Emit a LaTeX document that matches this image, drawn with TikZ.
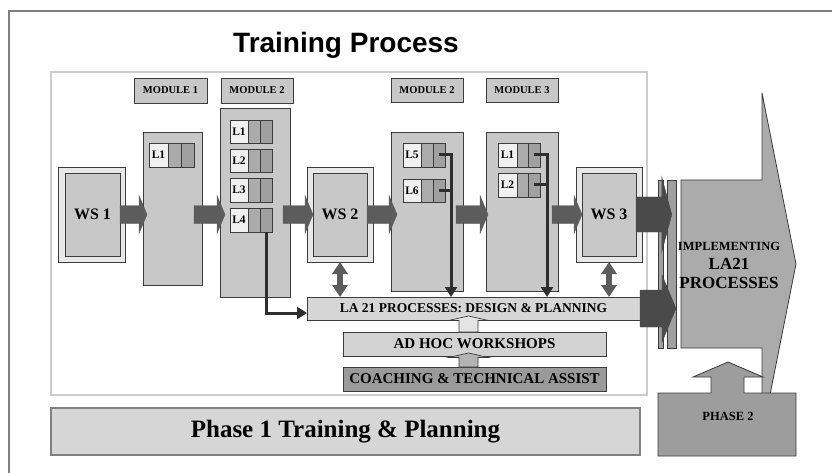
\documentclass[tikz,border=0pt]{standalone}
\usepackage{fontspec}
\setmainfont{Liberation Serif}
\newfontfamily\titlefont{Liberation Sans}
\usetikzlibrary{calc,arrows.meta}
\definecolor{bdr}{HTML}{3C3C3C}
\definecolor{colfill}{HTML}{C8C8C8}
\definecolor{wsfill}{HTML}{E8E8E8}
\definecolor{cellLc}{HTML}{F0F0F0}
\definecolor{cellAc}{HTML}{ABABAB}
\definecolor{cellBc}{HTML}{A0A0A0}
\definecolor{arrD}{HTML}{5C5C5C}
\definecolor{arrDD}{HTML}{4A4A4A}
\definecolor{bigc}{HTML}{ABABAB}
\definecolor{ph2c}{HTML}{9D9D9D}
\definecolor{barc}{HTML}{D6D6D6}
\definecolor{adhocc}{HTML}{D2D2D2}
\definecolor{coachc}{HTML}{9A9A9A}
\definecolor{ph1c}{HTML}{D6D6D6}
\definecolor{innerc}{HTML}{CCCCCC}
\definecolor{outerc}{HTML}{808080}
\definecolor{lineC}{HTML}{2E2E2E}
\definecolor{lt1c}{HTML}{E4E4E4}
\definecolor{lt2c}{HTML}{B4B4B4}
\definecolor{thinc}{HTML}{A0A0A0}

\newcommand{\bx}[7]{\pgfmathsetmacro\bxw{#5-#3}\pgfmathsetmacro\bxh{#6-#4}%
  \node[#2,minimum width=\bxw pt,minimum height=\bxh pt] (#1) at (#3,#4) {#7};}
\newcommand{\lrow}[8]{\bx{#1a}{cellL}{#2}{#6}{#3}{#7}{#8}\bx{#1b}{cellA}{#3}{#6}{#4}{#7}{}\bx{#1c}{cellB}{#4}{#6}{#5}{#7}{}}
\newcommand{\harr}[6][]{\draw[#1] let \p1=#2, \p2=#3 in (\x1,\y1+#4) -- (\x2-#6,\y1+#4) -- (\x2-#6,\y1+#5) -- (\x2,\y1) -- (\x2-#6,\y1-#5) -- (\x2-#6,\y1-#4) -- (\x1,\y1-#4) -- cycle;}
\newcommand{\varr}[6][]{\draw[#1] let \p1=#2, \p2=#3 in (\x1-#4,\y1) -- (\x1-#4,\y2-#6) -- (\x1-#5,\y2-#6) -- (\x1,\y2) -- (\x1+#5,\y2-#6) -- (\x1+#4,\y2-#6) -- (\x1+#4,\y1) -- cycle;}

\begin{document}
\begin{tikzpicture}[x=1pt,y=-1pt,
  box/.style={draw=bdr, line width=0.8pt, inner sep=0pt, outer sep=0pt, anchor=north west, font=\bfseries},
  modlab/.style={box, fill=colfill, font=\bfseries\fontsize{10.5}{11}\selectfont},
  col/.style={box, fill=colfill},
  wsout/.style={box, fill=wsfill},
  wsin/.style={box, fill=colfill, font=\bfseries\fontsize{16}{17}\selectfont},
  cellL/.style={box, fill=cellLc, font=\bfseries\fontsize{11.5}{12}\selectfont},
  cellA/.style={box, fill=cellAc},
  cellB/.style={box, fill=cellBc},
  barst/.style={box, fill=barc, font=\bfseries\fontsize{13.5}{14}\selectfont},
  adhocst/.style={box, fill=adhocc, font=\bfseries\fontsize{15}{16}\selectfont},
  coachst/.style={box, fill=coachc, font=\bfseries\fontsize{15}{16}\selectfont},
  ph1st/.style={box, draw=outerc, line width=1.2pt, fill=ph1c, font=\bfseries\fontsize{25}{26}\selectfont},
  thin/.style={box, fill=thinc},
  blk/.style={fill=arrD, draw=arrD, line width=0.4pt},
  blkD/.style={fill=arrDD, draw=arrDD, line width=0.4pt},
  lt1/.style={fill=lt1c, draw=bdr, line width=0.7pt},
  lt2/.style={fill=lt2c, draw=bdr, line width=0.7pt},
  conn/.style={draw=lineC, line width=3pt, -{Triangle[width=12pt,length=10pt]}},
  connp/.style={draw=lineC, line width=3pt},
  dbl/.style={draw=arrD, line width=6pt, {Triangle[width=15pt,length=12pt]}-{Triangle[width=15pt,length=12pt]}},
  bigst/.style={fill=bigc, draw=bdr, line width=0.8pt},
  ph2st/.style={fill=ph2c, draw=bdr, line width=0.8pt},
  ttl/.style={font=\titlefont\bfseries\fontsize{28}{30}\selectfont, inner sep=0pt}
]
\useasboundingbox (0,0) rectangle (832,473);
\fill[white] (0,0) rectangle (832,473);
\draw[outerc, line width=1.2pt] (9,473) -- (9,11) -- (832,11);
\node[ttl] (title) at (346,45) {Training Process};
\draw[innerc, line width=2.5pt] (51,72) rectangle (647,395);

% module labels
\bx{m1lab}{modlab}{134}{78}{207}{103}{MODULE 1}
\bx{m2lab}{modlab}{221}{78}{293}{103}{MODULE 2}
\bx{m2blab}{modlab}{391}{78}{463}{102}{MODULE 2}
\bx{m3lab}{modlab}{486}{78}{558}{102}{MODULE 3}

% workshops
\bx{ws1out}{wsout}{58}{167}{125}{262}{}
\bx{ws1in}{wsin}{65}{173}{120}{256}{WS 1}
\bx{ws2out}{wsout}{307}{167}{373}{262}{}
\bx{ws2in}{wsin}{313}{173}{367}{256}{WS 2}
\bx{ws3out}{wsout}{576}{167}{642}{262}{}
\bx{ws3in}{wsin}{582}{173}{636}{256}{WS 3}

% module columns
\bx{col1}{col}{143}{132}{202}{285}{}
\bx{col2}{col}{220}{108}{290}{297}{}
\bx{col2b}{col}{391}{132}{463}{291}{}
\bx{col3}{col}{486}{132}{558}{291}{}

% lesson rows
\lrow{r11}{149}{168}{181}{194}{143}{167}{L1}
\lrow{r21}{230}{248}{260}{272}{120}{143}{L1}
\lrow{r22}{230}{248}{260}{272}{149}{172}{L2}
\lrow{r23}{230}{248}{260}{272}{178}{202}{L3}
\lrow{r24}{230}{248}{260}{272}{208}{232}{L4}
\lrow{r25}{403}{421}{433}{445}{143}{167}{L5}
\lrow{r26}{403}{421}{433}{445}{179}{202}{L6}
\lrow{r31}{498}{517}{528}{540}{143}{167}{L1}
\lrow{r32}{498}{517}{528}{540}{173}{197}{L2}

% bottom bars
\bx{la21}{barst}{307}{297}{640}{320}{LA 21 PROCESSES: DESIGN \& PLANNING}
\bx{adhoc}{adhocst}{343}{332}{606}{356}{AD HOC WORKSHOPS}
\bx{coach}{coachst}{343}{367}{606}{391}{COACHING \& TECHNICAL ASSIST}
\bx{phase1}{ph1st}{51}{408}{640}{455}{Phase 1 Training \& Planning}

% big implementing arrow
\draw[bigst] (681,180) -- (762,180) -- (762,93) -- (796,264) -- (762,435) -- (762,348) -- (681,348) -- cycle;
\node[font=\bfseries\fontsize{12.5}{13}\selectfont, inner sep=0pt] (impl1) at (729,246) {IMPLEMENTING};
\node[font=\bfseries\fontsize{17}{18}\selectfont, inner sep=0pt] (impl2) at (729,264) {LA21};
\node[font=\bfseries\fontsize{17}{18}\selectfont, inner sep=0pt] (impl3) at (729,283) {PROCESSES};

% phase 2
\draw[ph2st] (658,393) -- (711,393) -- (711,377) -- (693,377) -- (728,362) -- (763,377) -- (744,377) -- (744,393) -- (796,393) -- (796,456) -- (658,456) -- cycle;
\node[font=\bfseries\fontsize{12.5}{13}\selectfont, inner sep=0pt] (ph2) at (728,416) {PHASE 2};

% thin bars
\bx{thinA}{thin}{658.5}{180}{663}{348}{}
\bx{thinB}{thin}{667.5}{180}{676}{348}{}

% flow arrows
\harr[blk]{(ws1in.east)}{($(col1.west)+(4,0)$)}{9pt}{19pt}{8pt}
\harr[blk]{($(col1.east |- ws1in.east)+(-8,0)$)}{($(col2.west)+(5,0)$)}{9pt}{19pt}{8pt}
\harr[blk]{($(col2.east |- ws1in.east)+(-7,0)$)}{($(ws2out.west)+(6,0)$)}{9pt}{19pt}{8pt}
\harr[blk]{(ws2in.east)}{($(col2b.west)+(6,0)$)}{9pt}{19pt}{8pt}
\harr[blk]{($(col2b.east |- ws2in.east)+(-7,0)$)}{($(col3.west)+(2,0)$)}{9pt}{19pt}{8pt}
\harr[blk]{($(col3.east |- ws3in.east)+(-6,0)$)}{($(ws3out.west)+(6,0)$)}{9pt}{19pt}{8pt}
\harr[blkD]{(ws3in.east)}{(thinB.center)}{17.5pt}{37.5pt}{10pt}
\harr[blkD]{(la21.east)}{(thinB.east)}{18.5pt}{33.5pt}{14pt}

% lesson connectors
\coordinate (k1) at (451,0);
\coordinate (k2) at (547,0);
\draw[conn] (r24c.south) |- ($(la21.west)+(0,4.5)$);
\draw[conn] (r25c.center) -| (la21.north -| k1);
\draw[connp] (r26c.center) -- (r26c.center -| k1);
\draw[conn] (r31c.center) -| (la21.north -| k2);
\draw[connp] (r32c.center) -- (r32c.center -| k2);

% double arrows
\draw[dbl] (ws2out.south) -- (ws2out.south |- la21.north);
\draw[dbl] (ws3out.south) -- (ws3out.south |- la21.north);

% support arrows
\varr[lt1]{($(adhoc.north)+(-6,0)$)}{($(la21.south)+(0,-4)$)}{9.5pt}{20pt}{4.5pt}
\varr[lt2]{($(coach.north)+(-6,0)$)}{($(adhoc.south)+(0,-3)$)}{9.5pt}{20pt}{4.5pt}
\end{tikzpicture}
\end{document}
